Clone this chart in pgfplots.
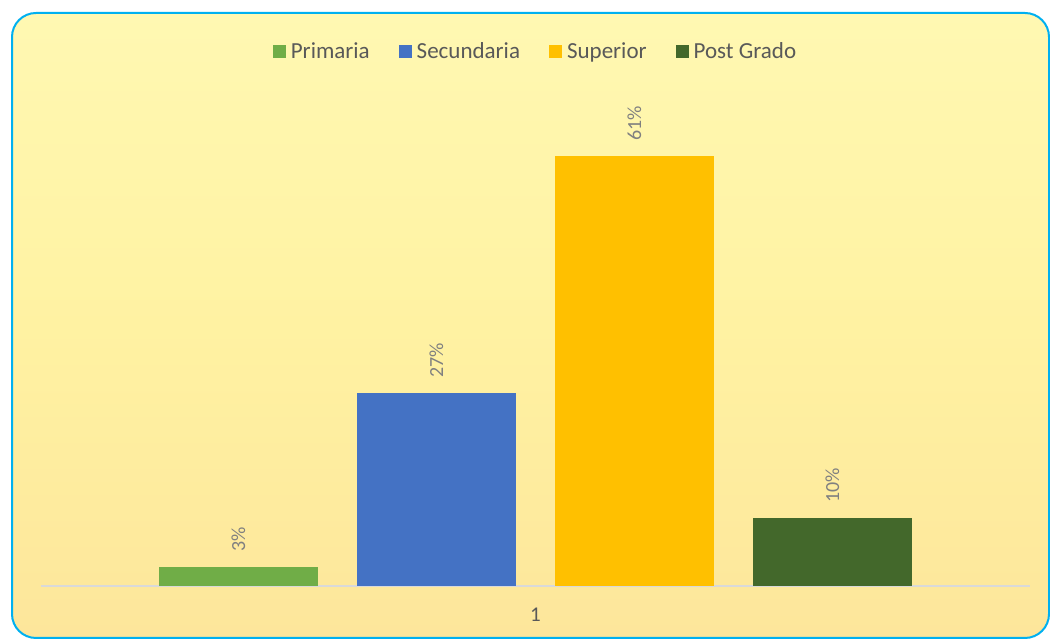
\documentclass[border=0pt]{standalone}
\usepackage{pgfplots}
\pgfplotsset{compat=1.18}
\usepackage{fontspec}
\setmainfont{Carlito}
\definecolor{bgfill}{RGB}{255,242,162}
\definecolor{bgtop}{RGB}{255,248,178}
\definecolor{bgbot}{RGB}{253,230,155}
\definecolor{frameblue}{RGB}{0,176,240}
\definecolor{cPrim}{RGB}{112,173,71}
\definecolor{cSec}{RGB}{68,114,196}
\definecolor{cSup}{RGB}{255,192,0}
\definecolor{cPost}{RGB}{67,104,43}
\definecolor{txtgray}{RGB}{89,89,89}
\definecolor{lblgray}{RGB}{128,128,128}
\definecolor{axgray}{RGB}{217,217,217}
\begin{document}
\begin{tikzpicture}[x=1pt,y=1pt]
\useasboundingbox (0,0) rectangle (1050,639);
\clip (0,0) rectangle (1050,639);
\shade[rounded corners=24pt, top color=bgtop, bottom color=bgbot, middle color=bgfill]
  (12,1) rectangle (1049,626);
\draw[rounded corners=24pt, line width=2pt, frameblue] (12,1) rectangle (1049,626);
\begin{axis}[
  at={(41pt,53pt)}, anchor=south west,
  scale only axis, width=989pt, height=496pt,
  xmin=41, xmax=1030, ymin=0, ymax=70.15,
  axis x line*=bottom, axis y line=none,
  x axis line style={-, draw=axgray, line width=1.6pt},
  xtick={535.5}, xticklabels={1}, major tick length=0pt,
  xticklabel style={font=\fontsize{21}{24}\selectfont, text=txtgray, yshift=-18pt},
  /pgf/number format/assume math mode=true,
  ybar, bar shift=0pt, bar width=159,
  clip=false,
  nodes near coords={\pgfmathprintnumber[fixed,precision=0]{\pgfplotspointmeta}\%},
  every node near coord/.append style={rotate=90, anchor=west, xshift=12pt,
    font=\fontsize{20}{23}\selectfont, text=lblgray},
  legend columns=4,
  legend style={draw=none, fill=none, at={(0.5,1.0786)}, anchor=center,
    font=\fontsize{23}{26}\selectfont, text=txtgray,
    /tikz/every odd column/.append style={column sep=3pt},
    /tikz/every even column/.append style={column sep=27pt}},
  legend image code/.code={\fill[#1] (0pt,-6.5pt) rectangle (13pt,6.5pt);},
]
\addplot[fill=cPrim, draw=none] coordinates {(238.5,2.7)};
\addlegendentry{Primaria}
\addplot[fill=cSec, draw=none] coordinates {(436.5,27.3)};
\addlegendentry{Secundaria}
\addplot[fill=cSup, draw=none] coordinates {(634.5,60.8)};
\addlegendentry{Superior}
\addplot[fill=cPost, draw=none] coordinates {(832.5,9.6)};
\addlegendentry{Post Grado}
\end{axis}
\end{tikzpicture}
\end{document}
